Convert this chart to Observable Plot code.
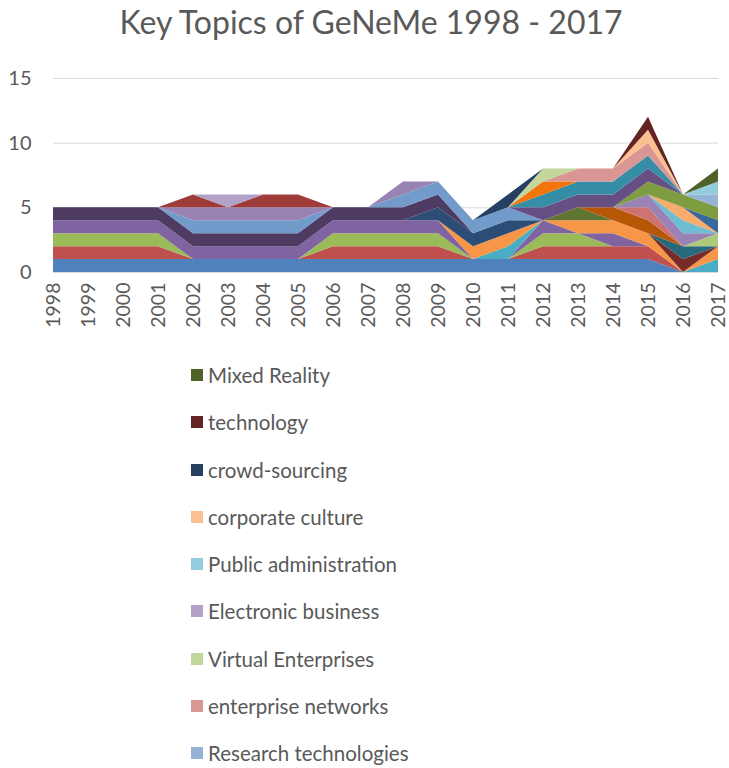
<!DOCTYPE html>
<html>
<head>
<meta charset="utf-8">
<script src="https://cdn.jsdelivr.net/npm/d3@7"></script>
<script src="https://cdn.jsdelivr.net/npm/@observablehq/plot@0.6"></script>
<style>
  html, body { margin: 0; padding: 0; background: #fff; }
  body { width: 729px; height: 768px; position: relative; overflow: hidden; font-family: Lato, "Open Sans", sans-serif; color: #595959; }
  #title { position: absolute; top: 1px; left: 371px; transform: translateX(-50%); white-space: nowrap; font-size: 32px; line-height: 42px; }
  #chart { position: absolute; top: 50px; left: 0; }
  #legend { position: absolute; left: 191px; top: 362px; }
  .item { height: 47.25px; display: flex; align-items: flex-start; font-size: 20.5px; line-height: 26px; }
  .sw { width: 12px; height: 12px; margin-top: 7px; margin-right: 5px; flex: none; }
</style>
</head>
<body>
<div id="title">Key Topics of GeNeMe 1998 - 2017</div>
<div id="chart"></div>
<div id="legend"></div>
<script>
const years = [1998,1999,2000,2001,2002,2003,2004,2005,2006,2007,2008,2009,2010,2011,2012,2013,2014,2015,2016,2017];
const yTicks = [0, 5, 10, 15];

// Series in Excel stacking order (bottom to top); only the last nine names are shown in the legend
const topics = [
  "Topic 1","Topic 2","Topic 3","Topic 4","Topic 5","Topic 6","Topic 7","Topic 8",
  "Topic 9","Topic 10","Topic 11","Topic 12","Topic 13","Topic 14","Topic 15","Topic 16",
  "Topic 17","Topic 18","Topic 19","Topic 20","Topic 21","Topic 22","Topic 23","Topic 24",
  "Research technologies","enterprise networks","Virtual Enterprises","Electronic business",
  "Public administration","corporate culture","crowd-sourcing","technology","Mixed Reality"
];

// counts per topic, per year 1998..2017
const counts = [
  [1,1,1,1,1,1,1,1,1,1,1,1,1,1,1,1,1,1,0,0], // 1
  [1,1,1,1,0,0,0,0,1,1,1,1,0,0,1,1,1,1,0,0], // 2
  [1,1,1,1,0,0,0,0,1,1,1,1,0,0,1,1,0,0,0,0], // 3
  [1,1,1,1,1,1,1,1,1,1,1,1,0,0,1,0,1,0,0,0], // 4
  [0,0,0,0,0,0,0,0,0,0,0,0,0,1,0,0,0,0,0,1], // 5
  [0,0,0,0,0,0,0,0,0,0,0,0,1,1,0,1,1,1,0,1], // 6
  [0,0,0,0,0,0,0,0,0,0,0,1,1,1,0,0,0,0,0,0], // 7
  [0,0,0,0,0,0,0,0,0,0,0,0,0,0,0,0,0,0,1,0], // 8
  [0,0,0,0,0,0,0,0,0,0,0,0,0,0,0,1,0,0,0,0], // 9
  [1,1,1,1,1,1,1,1,1,1,1,1,0,0,0,0,0,0,0,0], // 10
  [0,0,0,0,0,0,0,0,0,0,0,0,0,0,0,0,0,0,1,0], // 11
  [0,0,0,0,0,0,0,0,0,0,0,0,0,0,0,0,1,1,0,0], // 12
  [0,0,0,0,1,1,1,1,0,0,1,1,1,1,0,0,0,0,0,0], // 13
  [0,0,0,0,0,0,0,0,0,0,0,0,0,0,0,0,0,1,0,0], // 14
  [0,0,0,0,0,0,0,0,0,0,0,0,0,0,0,0,0,0,0,1], // 15
  [0,0,0,0,1,1,1,1,0,0,1,0,0,0,0,0,0,1,1,0], // 16
  [0,0,0,0,0,0,0,0,0,0,0,0,0,0,0,0,0,0,1,0], // 17
  [0,0,0,0,0,0,0,0,0,0,0,0,0,0,0,0,0,0,1,0], // 18
  [0,0,0,0,0,0,0,0,0,0,0,0,0,0,0,0,0,0,0,1], // 19
  [0,0,0,0,1,0,1,1,0,0,0,0,0,0,0,0,0,0,0,0], // 20
  [0,0,0,0,0,0,0,0,0,0,0,0,0,0,0,0,0,1,1,1], // 21
  [0,0,0,0,0,0,0,0,0,0,0,0,0,0,1,1,1,1,0,0], // 22
  [0,0,0,0,0,0,0,0,0,0,0,0,0,0,1,1,1,1,0,0], // 23
  [0,0,0,0,0,0,0,0,0,0,0,0,0,0,1,0,0,0,0,0], // 24
  [0,0,0,0,0,0,0,0,0,0,0,0,0,0,0,0,0,0,0,1], // Research technologies
  [0,0,0,0,0,0,0,0,0,0,0,0,0,0,0,1,1,1,0,0], // enterprise networks
  [0,0,0,0,0,0,0,0,0,0,0,0,0,0,1,0,0,0,0,0], // Virtual Enterprises
  [0,0,0,0,0,1,0,0,0,0,0,0,0,0,0,0,0,0,0,0], // Electronic business
  [0,0,0,0,0,0,0,0,0,0,0,0,0,0,0,0,0,0,0,1], // Public administration
  [0,0,0,0,0,0,0,0,0,0,0,0,0,0,0,0,0,1,0,0], // corporate culture
  [0,0,0,0,0,0,0,0,0,0,0,0,0,1,0,0,0,0,0,0], // crowd-sourcing
  [0,0,0,0,0,0,0,0,0,0,0,0,0,0,0,0,0,1,0,0], // technology
  [0,0,0,0,0,0,0,0,0,0,0,0,0,0,0,0,0,0,0,1]  // Mixed Reality
];

const colors = [
  "#4F81BD","#C0504D","#9BBB59","#8064A2","#4BACC6","#F79646",
  "#2C4D75","#772C2A","#5F7530","#4D3B62","#276A7C","#B65708",
  "#729ACA","#CD7371","#AFC97A","#9983B5","#6FBDD1","#F9AB6B",
  "#3A679C","#9F3B38","#7E9C40","#664F83","#358EA6","#F3740B",
  "#95B3D7","#D99694","#C3D69B","#B2A2C7","#93CDDD","#FAC090",
  "#254061","#632523","#4F6228"
];

const legendTopics = topics.slice(-9).reverse();

const rows = [];
topics.forEach((t, i) => years.forEach((yr, j) => rows.push({year: yr, topic: t, count: counts[i][j]})));

const chart = Plot.plot({
  width: 729,
  height: 292,
  marginLeft: 53,
  marginRight: 11,
  marginTop: 28,
  marginBottom: 70,
  style: {fontFamily: "Lato, 'Open Sans', sans-serif", color: "#595959", background: "transparent"},
  x: {domain: [1998, 2017]},
  y: {domain: [0, 15]},
  color: {domain: topics, range: colors},
  marks: [
    Plot.gridY(yTicks.filter(d => d > 0), {stroke: "#D9D9D9", strokeOpacity: 1}),
    Plot.areaY(rows, {x: "year", y: "count", z: "topic", fill: "topic", order: topics, curve: "linear"}),
    Plot.ruleY([0], {stroke: "#D9D9D9"}),
    Plot.axisX({ticks: years, tickFormat: d => String(d), tickRotate: -90, tickSize: 0, tickPadding: 10, fontSize: 19.5, label: null}),
    Plot.axisY({ticks: yTicks, tickSize: 0, tickPadding: 22, fontSize: 20, label: null})
  ]
});
document.getElementById("chart").appendChild(chart);

const legend = document.getElementById("legend");
legendTopics.forEach(t => {
  const item = document.createElement("div");
  item.className = "item";
  const sw = document.createElement("span");
  sw.className = "sw";
  sw.style.background = colors[topics.indexOf(t)];
  const label = document.createElement("span");
  label.textContent = t;
  item.appendChild(sw);
  item.appendChild(label);
  legend.appendChild(item);
});
</script>
</body>
</html>
